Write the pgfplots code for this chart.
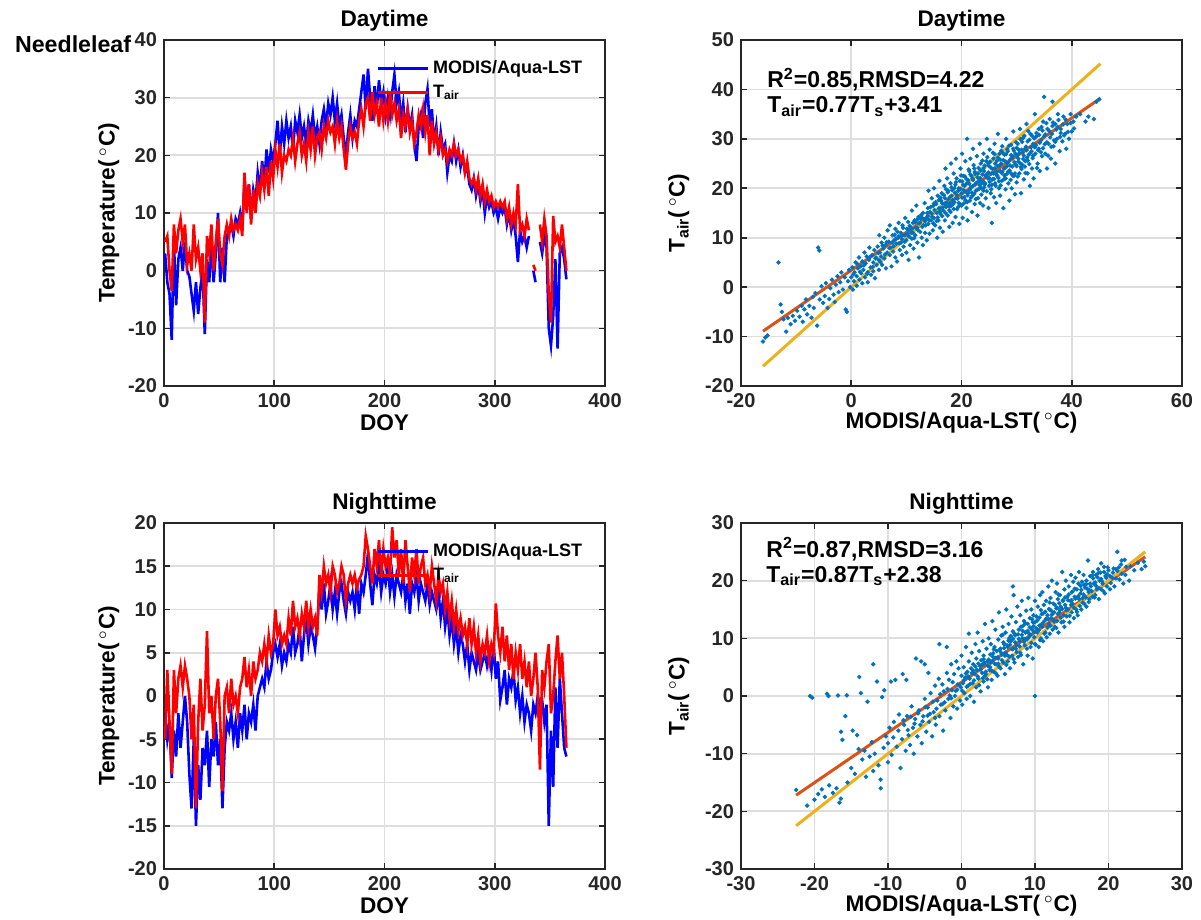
\documentclass[border=0pt]{standalone}
\usepackage{fontspec}
\setmainfont{Liberation Sans}
\usepackage{pgfplots}
\pgfplotsset{compat=1.18}
\usepackage{pgfplotstable}
\definecolor{axgray}{rgb}{0.15,0.15,0.15}
\definecolor{gridgray}{rgb}{0.87,0.87,0.87}
\definecolor{tsblue}{rgb}{0,0,1}
\definecolor{tsred}{rgb}{1,0,0}
\definecolor{scblue}{rgb}{0,0.447,0.741}
\definecolor{fitorange}{rgb}{0.85,0.325,0.098}
\definecolor{oneyellow}{rgb}{0.929,0.694,0.125}

\pgfplotstableread{
doy db dr nb nr
1 3 5 -2 -5
3 -2 6 -5 3
5 -4 0 -3 -3
7 -12 -3.5 -9.5 -9
9 5 8 -4 3
11 -6 3 -7 -2
13 2 7 -2 2
15 4 9 -6 3.5
17 0 5 -3 1
19 5 8 0 3.5
21 0 1 -3 2
23 -1 3 -9 0
25 -4 0 -13 -5
27 -7 8 -5 -1
29 -2 2 -15 -13
31 -7.5 4 -8 -3
33 -3 0 -12 2
35 0 3 -6 -4
37 -11 -9 -8 -1
39 2 6 -4 7.5
41 -2 3 -10.5 -2
43 5 8 -5 0
45 -2 0 -7 -5
47 3 5 -3 0
49 10 9 -8 2
51 -2 3 -5 -3
53 4 1 -13 -11
55 -2 6 -6 0
57 6 8 -3 1
59 7 6 -4 -2
61 8 9 -2 2
63 6 7 -5 -1
65 9 8 -3 0
67 8 7 -6 -2
69 10 9 -2 1
71 7 6 -4 2
73 16 17 -1 4.5
75 11 10 -5 1
77 15 15 -2 3
79 9 8 -3 0
81 14 14 -1 4
83 12 10 -4 2
85 17 15 0 3
87 14 13 1 5
89 19 17 2 4
91 15 14 1 6
93 21 18 4 4
95 17 13 2 7
97 21 19 3 5
99 19 16 5 6
101 22 21 6 10
103 26 18 4.5 7
105 20 22 6 8
107 25 17 3.5 6
109 22 20 5 7
111 26 19 4 6
113 23 21 6 9
115 25 20 5 7
117 21 23 8 11
119 26 19 5 8
121 24 22 6 9
123 27 24 8 7
125 23 20 4 9.5
127 25 22 7 8
129 22 19 9 11
131 26 24 6 8
133 24 21 8 10
135 27 25 7 8
137 23 20 5.5 9
139 25 23 8 7
141 22 24 12.5 14
143 26 21 10 12
145 28 25 13 15
147 25 23 9.5 13
149 29 26 11 14
151 27 24 13 12
153 30 25 10 15
155 26 22 12 14
157 29 26 9.5 12
159 25 23 12 13
161 27 25 13 15
163 23 21 11 14
165 20 17.5 9.5 11
167 24 22 12 13
169 27 25 11 14
171 23 23 12 13
173 26 24 10 14
175 25 22 13 12.5
177 28 26 9.5 13.5
179 31 28 13 14
181 34 25 12 15
183 28 29 14 18.5
185 35 30 16.5 17
187 30 26 13 15
189 26 31 10.5 13
191 32 27 14 17
193 28 29 13 15
195 33 25 15 18
197 29 30 12 14
199 31 26 14 17
201 27 29 13 15
203 30 26 15 16
205 27 31 12 14
207 31 27 14 19.5
209 34 29 11.5 16
211 29 26 14 18
213 31 28 13 14
215 26 23 12 17
217 29 27 14 13
219 24 25 11 18
221 28 28 13 15
223 25 24 9.5 12
225 27 26 13 16
227 22 22 12 14
229 19 24 14 17
231 25 27 11 13
233 27 25 13 15
235 23 28 12 16
237 29 24 11 13
239 31.5 27 13 14
241 25 20 10.5 12
243 28 26 12 15
245 22 22 11 13
247 25 24 10 11
249 20 21 12 14
251 24 23 9 12
253 21 20 11 13
255 22 21 8 10
257 17 19 10 12
259 20 21 7 9
261 19 20 9 11
263 22 22 6 8
265 19 20 8 10
267 21 21 5 7.5
269 18 19 7 9
271 20 20 6 7
273 17 17 4 8
275 18 19 6 6
277 15 16 3 9
279 14 15 5 6
281 16 16 4 8
283 13 14 3 5
285 15 16 5 7
287 12 13 3 4
289 14 15 4 6
291 10 12 5 5
293 13 14 3.5 7
295 11 12 5 4
297 12 13 3 6
299 10 11 6 5
301 11 12 2 10.7
303 9 11 4 7
305 11 12 -0.5 5
307 10 11 1 8
309 11 12 3 4
311 8 9 -1 7
313 10 11 2 3
315 7 8 1 6
317 9 10 3 2
319 6 8 -0.5 5
321 1.5 15 1 3
323 7 7 -2 6
325 5 8 0 2
327 6 6 -3 4
329 4 9 -1 1
331 6 7 -2 4
333 nan nan -4 0
335 0 1 -1 2
337 -2 0 -2 5
339 nan nan 0 1
341 5 8 -1 -8.5
343 3 5 -0.5 3
345 6 9 -3 1
347 4 6 -1 4
349 -10 -4 -15 6
351 -13 -9 -4 -2
353 -8 9.5 -10.5 0
355 2 5 1 4
357 -13.5 6 -6 7
359 3 4 2 2
361 4 8 -2 5
363 2 4 -6 0
365 -1.5 0 -7 -6
}\ts

\tikzset{ann/.style={anchor=west, font=\bfseries\fontsize{11.5}{13}\selectfont}}
\pgfplotsset{
  panel/.style={
    scale only axis, width=220.5pt, height=173pt,
    axis line style={draw=axgray, line width=0.9pt},
    tick style={draw=axgray, line width=0.8pt},
    major tick length=3pt, tick align=inside,
    grid=major, major grid style={draw=gridgray, line width=0.9pt},
    ticklabel style={font=\bfseries\fontsize{10}{12}\selectfont, text=axgray},
    /pgf/number format/assume math mode=true,
    label style={font=\bfseries\fontsize{11.3}{13}\selectfont},
    title style={font=\bfseries\fontsize{11.3}{13}\selectfont, at={(axis description cs:0.5,1.02)}, anchor=center},
    xlabel style={at={(axis description cs:0.5,-0.105)}, anchor=center},
    unbounded coords=jump,
  },
  tspanel/.style={panel,
    xmin=0, xmax=400, xtick={0,100,...,400},
    ylabel style={at={(axis description cs:-0.125,0.5)}, anchor=center},
    legend style={at={(axis description cs:0.482,0.953)}, anchor=north west, draw=none, fill=none,
      font=\bfseries\fontsize{9}{11}\selectfont, inner sep=0pt, row sep=0pt},
    legend cell align=left,
    legend image code/.code={\draw[##1, line width=1.3pt] (0pt,0pt) -- (24.8pt,0pt);},
  },
  scpanel/.style={panel,
    ylabel style={at={(axis description cs:-0.141,0.5)}, anchor=center},
  },
  dots/.style={only marks, mark=*, mark size=0.9pt, color=scblue},
}

\begin{document}
\begin{tikzpicture}
\useasboundingbox (0,0) rectangle (600.5pt,460pt);

% ---------------- top left: daytime time series
\begin{axis}[tspanel, at={(82pt,267pt)}, anchor=south west,
  ymin=-20, ymax=40, ytick={-20,-10,...,40},
  title={Daytime}, xlabel={DOY}, ylabel={Temperature(\,$^{\circ}$C)}]
\addplot[tsblue, line width=1.3pt] table[x=doy, y=db] {\ts};
\addplot[tsred, line width=1.3pt] table[x=doy, y=dr] {\ts};
\legend{MODIS/Aqua-LST, T\textsubscript{air}}
\end{axis}

% ---------------- bottom left: nighttime time series
\begin{axis}[tspanel, at={(82pt,25.5pt)}, anchor=south west,
  ymin=-20, ymax=20, ytick={-20,-15,...,20},
  title={Nighttime}, xlabel={DOY}, ylabel={Temperature(\,$^{\circ}$C)}]
\addplot[tsblue, line width=1.3pt] table[x=doy, y=nb] {\ts};
\addplot[tsred, line width=1.3pt] table[x=doy, y=nr] {\ts};
\legend{MODIS/Aqua-LST, T\textsubscript{air}}
\end{axis}

% ---------------- top right: daytime scatter
\begin{axis}[scpanel, at={(370.5pt,267pt)}, anchor=south west,
  xmin=-20, xmax=60, xtick={-20,0,...,60},
  ymin=-20, ymax=50, ytick={-20,-10,...,50},
  title={Daytime}, xlabel={MODIS/Aqua-LST(\,$^{\circ}$C)}, ylabel={T\textsubscript{air}(\,$^{\circ}$C)}]
\addplot[dots] coordinates {
(-16,-11) (-15.6,-10.2) (-15.2,-9.8) (-13.2,5) (-12.8,-3.5) (-12.6,-5) (-12.3,-6.5) (-11.8,-9) (-11.5,-6.2) (-11,-7.5)
(-10.6,-5.8) (-10.2,-6.8) (-9.8,-4.8) (-9.4,-6) (-9,-3.8) (-8.8,-7) (-8.5,-4.5) (-8.2,-2.5) (-8,-5.5) (-7.6,-3.8)
(-7.2,-6.2) (-7,-2) (-6.8,-4.2) (-6.5,-1.2) (-6.2,-7.8) (-6,8) (-5.8,7.4) (-5.7,-2.5) (-5.4,0.2) (-5.1,-3.2)
(-4.8,-1.8) (-4.6,0.8) (-4.3,-4.2) (-4,-2.4) (-3.8,-0.2) (-3.5,1.5) (-3.2,-1.5) (-3,-3) (-2.8,0.5) (-2.5,2.2)
(-2.3,-1) (-2,1) (-1.8,3) (-1.5,-0.5) (-1.2,2) (-1,-4.5) (-0.8,-5) (-0.6,1.2) (-0.4,3.5) (-0.2,0)
(0,2) (0.2,4) (0.3,-0.5) (0.5,1.2) (0.6,3) (0.8,5) (1,2.2) (1,0.3) (1.2,3.8) (1.4,6)
(1.5,1.5) (1.7,4.2) (1.8,2.8) (2,0.8) (2,5.2) (2.2,3.5) (2.4,7) (2.5,2) (2.6,4.8) (2.8,6.2)
(3,3) (3,1) (3.2,5.5) (3.3,8) (3.5,4) (3.6,2.5) (3.8,6.5) (4,5) (4,3.2) (4.2,7.5)
(4.3,1.8) (4.5,6) (4.6,4.5) (4.8,8.2) (5,5.5) (5,3.5) (5.1,10.5) (5.2,7)
(5.4,6.2) (5.5,9) (5.6,4.5) (5.8,7.8) (6,5.8) (6,10) (6.2,8.5) (6.3,3.8) (6.5,7) (6.6,11.5)
(6.8,9.2) (7,6.5) (7,12.5) (7.2,8) (7.3,4.2) (7.5,10.5) (7.6,7.2) (7.8,9.5) (8,6) (8,11.8)
(8.2,8.8) (8.3,5.2) (8.5,10) (8.6,13) (8.8,7.5) (9,9) (9,11) (9.2,6.5) (9.3,12.5) (9.5,8.2)
(9.6,10.5) (9.8,14) (10,9.5) (10,7) (10.1,11.8) (10.3,13.2) (10.4,5.5) (10.5,10.2) (10.7,8.5) (10.8,12)
(11,15.5) (11,9.8) (11.2,11) (11.3,7.8) (11.5,13.5) (11.6,10.5) (11.8,16.5) (12,12) (12,9) (12.2,14.2)
(12.3,6) (12.5,11.2) (12.6,13.8) (12.8,10) (13,15) (13,8.5) (13.1,12.5) (13.3,17) (13.4,11) (13.6,14)
(13.7,9.5) (13.9,16) (14,12.8) (14,19.5) (14.2,10.8) (14.3,15.2) (14.5,13.5) (14.6,18) (14.8,11.5) (14.9,16.5)
(15,14) (15,20)
(15.2,12.5) (15.3,17.2) (15.5,15) (15.6,10) (15.7,18.5) (15.8,13.5) (16,16) (16,21.5) (16.1,12) (16.2,14.8)
(16.4,19) (16.5,17) (16.6,11.2) (16.7,15.5) (16.9,20.5) (17,13.5) (17,18) (17.1,24) (17.2,16.2) (17.4,22)
(17.5,14.5) (17.6,19.5) (17.8,12.2) (17.9,17) (18,21) (18,15.2) (18.1,25) (18.2,18.5) (18.4,13) (18.5,16.8)
(18.6,23) (18.7,20) (18.9,14.2) (19,18) (19,26) (19.1,22) (19.2,15.8) (19.4,19.5) (19.5,17) (19.6,12.8)
(19.7,21.5) (19.8,24) (20,16.5) (20,19) (20.1,27) (20.2,14) (20.3,22.5) (20.5,18.2) (20.6,20.5) (20.7,25.5)
(20.9,16) (21,21) (21,30) (21.1,13.5) (21.2,19) (21.4,23.5) (21.5,17.5) (21.6,26) (21.7,20.2) (21.9,15.2)
(22,22) (22,18.5) (22.1,28) (22.3,24) (22.4,16.8) (22.5,20.8) (22.6,19.5) (22.8,26.5) (22.9,14.5) (23,23)
(23,18) (23.2,21.5) (23.3,29) (23.4,17) (23.5,25) (23.6,20) (23.8,22.8) (23.9,16.5) (24,19.5) (24,27)
(24.1,23.5) (24.3,21) (24.4,18) (24.5,25.5) (24.6,30) (24.8,22) (24.9,16) (25,20.5) (25,24.5) (25.1,27.8)
(25.3,19) (25.4,23) (25.5,13) (25.6,21.8) (25.8,26) (25.9,18.2) (26,24) (26,29) (26.1,21) (26.3,17)
(26.4,25.5) (26.5,22.5) (26.6,31) (26.8,20) (26.9,27) (27,23.5) (27,18.5) (27.2,25) (27.3,21.5) (27.4,28.5)
(27.6,16) (27.7,24) (27.8,26.8) (28,22) (28,19.8) (28.1,30) (28.3,24.5) (28.4,27.5) (28.5,21) (28.7,17.5)
(28.8,25.8) (29,23) (29,28.8) (29.1,20) (29.3,26.5) (29.4,31.5) (29.5,22.5) (29.7,18.8) (29.8,27) (30,24.5)
(30,21.2)
(30.2,29) (30.3,26) (30.5,23) (30.6,32) (30.8,19) (30.9,27.8) (31,24.8) (31.2,30.2) (31.3,21.8) (31.5,28)
(31.6,25.5) (31.8,33) (32,23) (32,29.5) (32.2,26.8) (32.4,20.5) (32.5,31) (32.7,27.5) (32.8,24) (33,29)
(33.1,22) (33.3,35) (33.4,27) (33.6,30.5) (33.8,25) (34,32) (34,28) (34.2,23.5) (34.5,29.8) (34.6,26.5)
(34.8,33.5) (35,38.5) (35,30.5) (35.2,27) (35.5,24) (35.6,32) (35.8,29) (36,34) (36.2,26) (36.4,31)
(36.5,37.5) (36.7,28.5) (37,33) (37,25) (37.3,30) (37.5,35) (37.8,27.5) (38,32) (38.3,29.5) (38.5,34.5)
(38.8,31) (39,28) (39.2,33) (39.5,30) (39.8,35) (40,31.5) (40.3,33.5) (40.8,34.5) (41.5,35) (42.5,33.5)
(43,34.5) (44,34) (44.5,37.5) (45,38)
(0.4,2.6) (1.1,4.7) (1.6,3.1) (2.3,4.4) (2.9,2.7) (3.4,6.1) (3.9,4.1) (4.4,5.8) (4.9,6.9) (5.3,5.1)
(5.7,8.4) (6.1,6.6) (6.4,9.1) (6.9,7.9) (7.4,9) (7.7,8.3) (7.9,10.6)
(8.1,9.8) (8.4,11.2) (8.7,8.9) (9.1,10.4) (9.4,12) (9.7,9.2) (10.2,10.8) (10.6,12.4) (10.9,11) (11.2,13)
(11.4,9.9) (11.7,12) (11.9,13.6) (12.1,11.5) (12.4,13) (12.7,14.6) (12.9,12.2) (13.2,13.8) (13.5,12.5) (13.8,15)
(14.1,13.6) (14.4,16.2) (14.7,14.2) (14.9,12.9) (15.1,15.6) (15.4,16.8) (15.7,14.1) (15.9,17.6)
(16.1,15.2) (16.3,17.5) (16.6,16.1) (16.8,18.6) (17.1,15) (17.3,17.1) (17.5,19.2) (17.7,16.4) (17.9,18.2) (18.2,20.2)
(18.4,17.6) (18.6,15.8) (18.8,19.1) (19,21.2) (19.3,17.9) (19.5,20) (19.7,16.8) (19.9,22.6)
(20.1,18.1) (20.3,20.7) (20.4,16.9) (20.6,22.4) (20.8,19.3) (21,17.2) (21.2,21.6) (21.3,23.8) (21.5,19.7) (21.7,18.1)
(21.8,22.5) (22,20.4) (22.2,24.7) (22.3,18.9) (22.5,22.9) (22.7,21.1) (22.9,19.7) (23.1,24.1) (23.3,20.6) (23.4,22.1)
(23.6,18.7) (23.8,25.6) (23.9,21.4)
(24.1,20.2) (24.2,24.6) (24.4,22.5) (24.6,19.4) (24.7,26.3) (24.9,23.2) (25.1,21.3) (25.2,25.4) (25.4,19.8) (25.6,23.9)
(25.7,27.2) (25.9,21.9) (26.1,25) (26.2,20.5) (26.4,23.3) (26.6,26.2) (26.7,22.1) (26.9,24.6) (27.1,20.6) (27.2,27.6)
(27.4,23.4) (27.6,25.7) (27.7,21.8) (27.9,24.1)
(28.1,26.9) (28.2,22.9) (28.4,25.2) (28.6,28.6) (28.7,23.6) (28.9,21.7) (29.1,26.1) (29.2,24.4) (29.4,28) (29.6,25.3)
(29.7,23) (29.9,29.3) (30.1,26.6) (30.2,22.4) (30.4,27.8) (30.6,25.1) (30.7,29.9) (30.9,23.9) (31.1,27.2) (31.2,25.9)
(31.4,30.6) (31.6,23.1) (31.7,28.4) (31.9,26.2)
(32.1,31.6) (32.3,24.9) (32.6,28.3) (32.9,26.1) (33.2,30.1) (33.5,28.7) (33.7,24.1) (34.1,30.8) (34.4,27.3) (34.7,31.7)
(35.1,28.9) (35.4,33.2) (35.7,26.6) (36.1,30.3) (36.5,32.6) (36.8,29.7) (37.2,31.9) (37.6,33.8) (37.9,30.4) (38.4,32.9)
(38.9,33.9) (39.3,31.4) (39.8,33.2) (40.4,32.1)
(14.6,14.9) (15,16.9) (15.5,13.4) (15.9,15.9) (16.2,18.1) (16.5,14.4) (16.9,16.9) (17.2,19.8) (17.6,17.8) (17.8,15.6)
(18.1,16.4) (18.3,19.6) (18.7,17.2) (18.9,20.7) (19.2,18.6) (19.4,16.2) (19.8,19.9) (20.1,21.4) (20.4,19.6) (20.7,17.6)
(20.9,21.9) (21.1,18.6) (21.4,20.9) (21.6,22.8) (21.9,19.1) (22.1,21.7) (22.4,23.3) (22.6,17.8) (22.9,22.2) (23.2,19.9)
(23.5,23.6) (23.7,21.1) (24,24.1) (24.2,20.8) (24.5,22.8) (24.8,25.1) (25,22.1) (25.3,24.2) (25.5,20.7) (25.8,23)
(26,26.9) (26.3,22.8) (26.5,24.5) (26.8,21.4) (27,25.8) (27.3,23.1) (27.5,27.1) (27.8,22.6) (28,25.4) (28.3,27.9)
(28.5,23.4) (28.8,24.6) (29,26.7) (29.3,22.6) (29.5,27.6) (29.8,24.8) (30,28.2) (30.3,25.4) (30.5,27.1) (30.8,24.3)
(31,29.4) (31.3,26.6) (31.5,24.4) (31.8,27.7) (32,25.6) (32.3,29.8) (32.5,27.1) (32.8,30.6) (33,26.6) (33.3,28.3)
(33.6,31.2) (33.9,27.7) (34.2,29.2) (34.5,32.4) (34.8,28.1) (35.2,30.9) (35.5,29.3) (35.9,31.6) (36.3,28.4) (36.6,33.3)
(37,29.4) (37.4,32.4) (38,31.2) (38.6,30.7) (12.3,12.9) (12.8,14.1) (13.4,13.3) (13.9,14.4) (11,11.8) (11.6,13.1)
(10.4,11.6) (9.9,10.6) (9.2,9.7) (8.6,10.3)
};
\addplot[fitorange, line width=1.5pt] coordinates {(-16,-8.91) (45.2,38.21)};
\addplot[oneyellow, line width=1.5pt] coordinates {(-16,-16) (45.2,45.2)};
\node[ann] at (axis cs:-16.5,42) {R\textsuperscript{2}=0.85,RMSD=4.22};
\node[ann] at (axis cs:-16.5,36.5) {T\textsubscript{air}=0.77T\textsubscript{s}+3.41};
\end{axis}

% ---------------- bottom right: nighttime scatter
\begin{axis}[scpanel, at={(370.5pt,25.5pt)}, anchor=south west,
  xmin=-30, xmax=30, xtick={-30,-20,...,30},
  ymin=-30, ymax=30, ytick={-30,-20,...,30},
  title={Nighttime}, xlabel={MODIS/Aqua-LST(\,$^{\circ}$C)}, ylabel={T\textsubscript{air}(\,$^{\circ}$C)}]
\addplot[dots] coordinates {
(-22.5,-16.3) (-21,-19) (-20.6,0) (-20.3,-0.3) (-20,-18) (-19.5,-17) (-19,-16.2) (-18.6,-17.5) (-18.3,0.4) (-18.1,0)
(-18,-15.5) (-17.5,-16.8) (-17,-16) (-16.8,0.1) (-16.6,-18.5) (-16.4,-17.8) (-16.4,-6.2) (-16.2,-7.6) (-15.8,-3.5) (-15.6,0.1)
(-15.5,-15) (-15,-12.5) (-14.8,-6) (-14.5,-13.5) (-14.2,-6.8) (-14,-9.2) (-13.9,3.3) (-13.7,0.5) (-13.5,-11) (-13.2,-9.5)
(-13,-14) (-12.8,-1) (-12.5,-10.5) (-12.2,-8) (-12,-13) (-12,5.5) (-11.8,-10) (-11.5,2.5) (-11.3,-12) (-11,-16)
(-11,-14.5) (-10.8,-0.2) (-10.6,-9) (-10.5,1) (-10.3,-7) (-10,-11.5) (-10,-8.2)
(-9.8,-5.5) (-9.6,2.5) (-9.5,-10.2) (-9.3,-7.2) (-9.2,-4.5) (-9,2.8) (-8.8,-8.8) (-8.6,-6) (-8.5,-3.2) (-8.3,-12.5)
(-8.1,-7.5) (-8,3.8) (-7.8,-5) (-7.6,-9.5) (-7.5,2.8) (-7.4,-3.5) (-7.2,-6.8) (-7,-8.5) (-6.8,-1.8) (-6.6,-5.5)
(-6.5,-10) (-6.3,-4) (-6.2,6.5) (-6,-7) (-5.8,-2.5) (-5.6,-5) (-5.5,6) (-5.4,-8.2) (-5.2,-3.5) (-5,5.5)
(-5,-0.5) (-4.8,-6.2) (-4.6,-2) (-4.5,4) (-4.4,-4.5) (-4.2,0.5) (-4,-7) (-3.8,-2.8) (-3.6,1.8) (-3.5,-5)
(-3.3,-0.8) (-3.1,3) (-3,9) (-3,-3.5) (-2.8,-1.5) (-2.6,2) (-2.5,-6) (-2.4,0.8) (-2.2,-2.5) (-2,8.5)
(-2,4) (-1.8,-0.5) (-1.7,2.8) (-1.5,-3.8) (-1.4,5.5) (-1.3,1) (-1.1,-1.8) (-1,3.8) (-0.9,0) (-0.7,6)
(-0.6,-2.2) (-0.5,2) (-0.4,4.8) (-0.2,-0.8) (-0.1,1.5) (0,3.5) (0,7) (0.1,-1.5)
(0.2,2.2) (0.3,5) (0.4,0.5) (0.5,3.2) (0.6,8.5) (0.7,-0.5) (0.8,4.2) (0.9,1.8) (1,6) (1,10.8)
(1.1,3) (1.2,0) (1.3,4.8) (1.4,7.5) (1.5,2.2) (1.6,5.5) (1.7,-1) (1.8,3.8) (1.9,9) (2,6.5)
(2,1.5) (2.1,4.5) (2.2,11) (2.3,3) (2.4,7.8) (2.5,5.2) (2.6,0.8) (2.7,6.2) (2.8,4) (2.9,9.5)
(3,2.5) (3,7) (3.1,5.5) (3.2,12.5) (3.3,3.8) (3.4,8.2) (3.5,6) (3.6,1.5) (3.7,10) (3.8,4.5)
(3.9,7.2) (4,5.8) (4,9) (4.1,2.8) (4.2,13) (4.3,6.8) (4.4,4.2) (4.5,8.5) (4.6,11.5) (4.7,5.5)
(4.8,7.8) (4.9,3.5) (5,9.8) (5,6.5) (5.1,14.5) (5.2,8) (5.3,4.8) (5.4,10.5) (5.5,7.2) (5.6,12)
(5.7,5.8) (5.8,9) (5.9,3.8) (6,11) (6,7.5) (6.1,15) (6.2,8.8) (6.3,6) (6.4,12.5) (6.5,10)
(6.6,4.8) (6.7,9.5) (6.8,13.8) (6.9,7) (7,19) (7,11.2) (7,8.2) (7.1,17.5) (7.2,5.8) (7.3,10.5)
(7.4,12.8) (7.5,8.8) (7.6,15.5) (7.7,6.8) (7.8,11.5) (7.9,9.5) (8,14) (8,7.5) (8.1,12) (8.2,16.5)
(8.3,10) (8.4,5.5) (8.5,13) (8.6,8.8) (8.7,11) (8.8,14.8) (8.9,9.8) (9,12.5) (9,7) (9.1,17)
(9.2,10.8) (9.3,13.5) (9.4,8.5) (9.5,15) (9.6,11.5) (9.7,6.5) (9.8,14) (9.9,10.2) (10,0) (10,12.8)
(10,16.5) (10,9)
(10.2,13.8) (10.3,11) (10.4,15.5) (10.5,8.5) (10.6,12.2) (10.7,17.5) (10.8,10) (10.9,14.2) (11,18) (11,12)
(11.1,9.5) (11.2,15.8) (11.3,13) (11.4,11) (11.5,16.5) (11.6,10.2) (11.7,14) (11.8,19) (11.9,12.5) (12,15)
(12,10.8) (12.1,17) (12.2,13.5) (12.3,20) (12.4,11.5) (12.5,16) (12.6,14.5) (12.7,12) (12.8,18) (12.9,15.2)
(13,13) (13,19.5) (13.1,16.8) (13.2,11) (13.3,14.5) (13.4,17.5) (13.5,15.5) (13.6,12.8) (13.7,21.5) (13.8,16.5)
(13.9,14) (14,18.5) (14,12) (14.1,15.8) (14.2,20) (14.3,13.8) (14.4,17.2) (14.5,15) (14.6,19) (14.7,12.8)
(14.8,16.5) (14.9,21) (15,14.5) (15,18) (15.1,16) (15.2,19.8) (15.3,13.5) (15.4,17.2) (15.5,20.5) (15.6,15)
(15.7,18.5) (15.8,14) (15.9,19.5) (16,16.8) (16,21.5) (16.2,17.8) (16.3,15) (16.4,19.8) (16.5,17) (16.6,21)
(16.7,16) (16.8,18.8) (17,20) (17,15.5) (17.2,23.5) (17.3,18) (17.4,16.8) (17.5,20.8) (17.6,19) (17.8,17.2)
(17.9,21.5) (18,19.5) (18.2,17.5) (18.3,21) (18.4,18.5) (18.6,22) (18.7,16.8) (18.8,20) (19,18.5) (19,23)
(19.2,19.5) (19.4,21.5) (19.5,17.8) (19.7,20.5) (19.8,19) (20,21.8) (20.2,18.5) (20.5,20.5) (20.8,19) (21,22)
(21.2,25) (21.5,20.2) (21.8,23.5) (22,19.5) (22.3,21) (22.8,20) (23,22.5) (24.5,22) (25,22.5)
(-7.9,-4.2) (-7.3,-5.9) (-6.9,-3.6) (-6.4,-4.8) (-5.9,-3) (-5.3,-4.4) (-4.9,-1.9) (-4.3,-3.1) (-3.9,-1) (-3.4,-2.2)
(-2.9,0.3) (-2.3,-1.1) (-1.9,1.2) (-1.6,0.1) (-1.2,2.4) (-0.8,0.9) (-0.3,1.9)
(0.1,0.9) (0.4,2.8) (0.7,1.6) (0.9,3.4) (1.2,2.1) (1.4,4) (1.7,2.7) (1.9,5.1) (2.2,3.4) (2.4,1.9)
(2.6,4.6) (2.9,3.1) (3.1,5.8) (3.3,4.2) (3.5,2.9) (3.7,6.3) (3.9,5)
(4.1,4.4) (4.3,7.4) (4.5,5.6) (4.7,3.9) (4.9,6.7) (5.1,5.1) (5.3,8.2) (5.5,6.2) (5.7,9.3) (5.9,7)
(6.1,5.4) (6.3,8.5) (6.5,6.8) (6.7,10.4) (6.9,8.1) (7.1,6.4) (7.3,9.3) (7.5,7.6) (7.7,10.7) (7.9,8.6)
(8.1,7.1) (8.3,11.3) (8.5,9.4) (8.7,12.6) (8.9,8.2) (9.1,10.1) (9.3,11.9) (9.5,9.2) (9.7,12.8) (9.9,11.1)
(10.1,8.9) (10.3,13.1) (10.5,11.4) (10.7,9.7) (10.9,12.3) (11.1,14.3) (11.3,10.8) (11.5,13.4) (11.7,11.9) (11.9,15.1)
(12.1,12.2) (12.3,14.1) (12.5,13.2) (12.7,15.8) (12.9,11.8) (13.1,14.2) (13.3,16.1) (13.5,13.6) (13.7,15.1) (13.9,12.9)
(14.1,17.1) (14.3,14.9) (14.5,16.6) (14.7,13.9) (14.9,15.8) (15.1,18.1) (15.3,15.3) (15.5,16.9) (15.7,14.6) (15.9,17.3)
(16.1,15.6) (16.3,18.4) (16.5,16.2) (16.7,19.3) (16.9,17.1) (17.1,18.6) (17.3,16.3) (17.5,19.5) (17.7,18.2) (17.9,20.4)
(18.1,17.1) (18.3,19.1) (18.5,20.6) (18.7,18.7) (18.9,21.4) (19.1,19.9) (19.3,18.2) (19.6,20.8) (19.9,22.3) (20.3,19.6)
(20.6,21.4) (21,20.4) (21.4,22.3) (21.8,21.2) (22.4,22.4) (23.5,21.8) (24,23.1) (24.8,23.3)
(2.3,5.6) (2.8,5.4) (3.2,3.5) (3.6,5.2) (4.2,6.1) (4.6,6.6) (5,5.6) (5.4,7.5) (5.8,8.3) (6.2,7.1)
(6.6,8.9) (7,9.9) (7.4,8.2) (7.8,9.9) (8.2,10.6) (8.6,9.9) (9,11.3) (9.4,10.6) (9.8,12.1) (10.2,11.7)
(10.6,13.6) (11,12.6) (11.4,14.6) (11.8,13.3) (12.2,14.8) (12.6,12.9) (13,15.3) (13.4,14.9) (13.8,16.6) (14.2,15.3)
(14.6,17.6) (15,16.6) (15.4,18.6) (15.8,17.1) (16.2,19.1) (16.6,17.6) (17,19.4) (17.4,18.3) (17.8,20.9) (18.2,19.7)
(18.6,21.3) (19,20.3) (19.4,22.4) (19.8,21.1) (20.2,20.8) (20.7,22.1) (21.2,21.7) (21.7,22.8) (22.2,23.6) (6.4,9.6)
(7.2,10.8) (8.4,12.2) (9.6,13.3) (10.8,14.9) (12,16.2) (13.2,17.6) (3,6.4) (4.4,8.1) (5.6,10.6) (0.6,3.9)
(1.6,4.4) (-0.6,1.1) (-1.4,-0.4) (-2.6,-1.4) (-3.6,-3.8) (-4.6,-3.4)
};
\addplot[fitorange, line width=1.5pt] coordinates {(-22.5,-17.2) (25,24.13)};
\addplot[oneyellow, line width=1.5pt] coordinates {(-22.5,-22.5) (25,25)};
\node[ann] at (axis cs:-27.5,25.5) {R\textsuperscript{2}=0.87,RMSD=3.16};
\node[ann] at (axis cs:-27.5,20.8) {T\textsubscript{air}=0.87T\textsubscript{s}+2.38};
\end{axis}

\node[anchor=west, font=\bfseries\fontsize{11.6}{13}\selectfont] at (4pt,438pt) {Needleleaf};
\end{tikzpicture}
\end{document}
